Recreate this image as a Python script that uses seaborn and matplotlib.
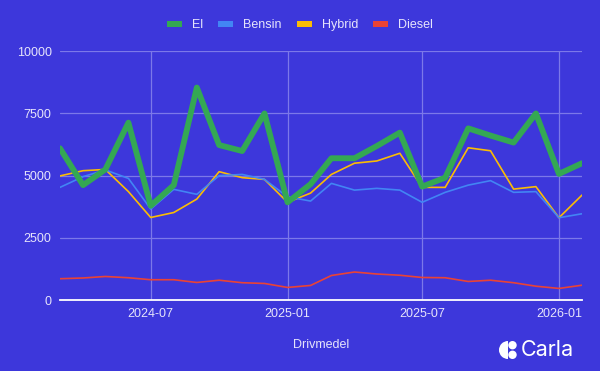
import numpy as np
import pandas as pd
import matplotlib
matplotlib.use("Agg")
import matplotlib.pyplot as plt
import matplotlib.dates as mdates
from matplotlib.patches import Patch, Circle, Wedge
import seaborn as sns

# data (registrations per month)
months = ["2024-03", "2024-04", "2024-05", "2024-06", "2024-07", "2024-08",
          "2024-09", "2024-10", "2024-11", "2024-12", "2025-01", "2025-02",
          "2025-03", "2025-04", "2025-05", "2025-06", "2025-07", "2025-08",
          "2025-09", "2025-10", "2025-11", "2025-12", "2026-01", "2026-02"]
el = [6100, 4620, 5250, 7130, 3790, 4620, 8540, 6230, 5990, 7500, 3930, 4660,
      5700, 5700, 6190, 6730, 4560, 4920, 6900, 6610, 6330, 7500, 5070, 5500]
bensin = [4530, 4960, 5230, 4890, 3660, 4450, 4250, 5000, 5050, 4850, 4150, 3980,
          4690, 4420, 4490, 4420, 3930, 4330, 4620, 4800, 4330, 4360, 3310, 3470]
hybrid = [4990, 5200, 5250, 4360, 3320, 3520, 4060, 5160, 4920, 4850, 3930, 4300,
          5050, 5500, 5590, 5900, 4530, 4530, 6120, 6000, 4460, 4560, 3310, 4220]
diesel = [860, 890, 950, 900, 820, 820, 710, 800, 700, 670, 510, 590,
          990, 1130, 1050, 1000, 910, 900, 750, 800, 700, 560, 470, 600]

series = ["El", "Bensin", "Hybrid", "Diesel"]
colors = {"El": "#34a853", "Bensin": "#4285f4", "Hybrid": "#fbbc04", "Diesel": "#ea4335"}
widths = {"El": 4.2, "Bensin": 1.2, "Hybrid": 1.2, "Diesel": 1.2}

dates = pd.to_datetime(months)
df = pd.DataFrame({"El": el, "Bensin": bensin, "Hybrid": hybrid, "Diesel": diesel}, index=dates)
long_df = df.reset_index(names="month").melt(id_vars="month", var_name="drivmedel", value_name="antal")

bg = "#3d37db"
txt = "#e6e4fb"
grid = "#7c78e9"

sns.set_theme(style="white")
plt.rcParams["font.family"] = ["Liberation Sans", "DejaVu Sans"]

fig = plt.figure(figsize=(6, 3.71), dpi=100, facecolor=bg)
ax = fig.add_axes([0.1, 0.191, 0.87, 0.671])
ax.set_facecolor(bg)

sns.lineplot(data=long_df, x="month", y="antal", hue="drivmedel", size="drivmedel",
             hue_order=series[::-1], size_order=series[::-1],
             palette=colors, sizes=widths, legend=False, ax=ax)

ax.set_xlim(dates[0], dates[-1])
ax.set_ylim(0, 10000)
ax.set_yticks([0, 2500, 5000, 7500, 10000])
ax.xaxis.set_major_locator(mdates.MonthLocator(bymonth=[1, 7]))
ax.xaxis.set_major_formatter(mdates.DateFormatter("%Y-%m"))

ax.grid(True, color=grid, linewidth=0.9)
ax.set_axisbelow(True)
for s in ["top", "right", "left"]:
    ax.spines[s].set_visible(False)
ax.spines["bottom"].set_color("white")
ax.spines["bottom"].set_linewidth(1.3)
ax.tick_params(axis="both", length=0, colors=txt, labelsize=9, pad=6)

ax.set_xlabel("Drivmedel", color=txt, fontsize=9, labelpad=13)
ax.set_ylabel("")

handles = [Patch(facecolor=colors[s], edgecolor="none") for s in series]
fig.legend(handles, series, loc="center", bbox_to_anchor=(0.5, 0.932), ncol=4,
           frameon=False, fontsize=9, labelcolor=txt, handlelength=1.2,
           handleheight=0.35, handletextpad=0.8, columnspacing=1.2)

# Carla logo, bottom right (small axes in pixel units so circles stay round)
lax = fig.add_axes([499 / 600, (371 - 361) / 371, 18 / 600, 22 / 371])
lax.set_xlim(0, 18)
lax.set_ylim(0, 22)
lax.axis("off")
lax.add_patch(Wedge((9, 11), 9, 90, 270, facecolor="white", edgecolor="none"))
lax.add_patch(Circle((13.5, 15.8), 4.2, facecolor="white", edgecolor="none"))
lax.add_patch(Circle((13.5, 6.2), 4.2, facecolor="white", edgecolor="none"))
fig.text(521 / 600, (371 - 350.5) / 371, "Carla", color="white", fontsize=15.5,
         va="center", ha="left", family=["Inter", "DejaVu Sans"])

fig.savefig("out.png", dpi=100, facecolor=bg)
